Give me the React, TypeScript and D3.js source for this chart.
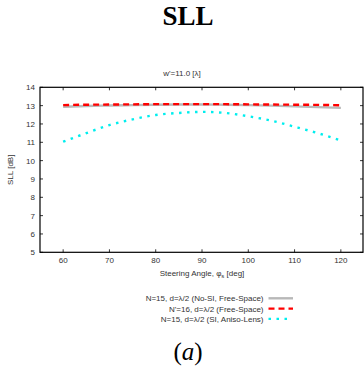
import React from "react";
import * as d3 from "d3";

const angles = [60, 65, 70, 75, 80, 85, 90, 95, 100, 105, 110, 115, 120];
const sllNoSI = [12.94, 12.98, 13.01, 13.03, 13.05, 13.06, 13.06, 13.05, 13.03, 13.0, 12.96, 12.92, 12.88];
const sllN16 = [13.03, 13.05, 13.06, 13.07, 13.08, 13.08, 13.08, 13.08, 13.07, 13.06, 13.05, 13.04, 13.02];
const sllLens = [11.03, 11.5, 11.94, 12.25, 12.49, 12.6, 12.66, 12.6, 12.42, 12.18, 11.85, 11.5, 11.1];

const xTicks = [60, 70, 80, 90, 100, 110, 120];
const yTicks = [5, 6, 7, 8, 9, 10, 11, 12, 13, 14];

const legendLabels = [
  "N=15, d=λ/2 (No-SI, Free-Space)",
  "N'=16, d=λ/2 (Free-Space)",
  "N=15, d=λ/2 (SI, Aniso-Lens)",
];

const W = 364;
const H = 378;
const left = 40;
const right = 363;
const top = 87.3;
const bottom = 252.3;

const seriesStyles = [
  { color: "#b8b8b8", dash: "none", width: 2.4 },
  { color: "#ff0000", dash: "6,4", width: 2.4 },
  { color: "#00eeee", dash: "2.5,5.5", width: 2.4 },
];

export default function App() {
  const x = d3.scaleLinear().domain([55, 125]).range([left, right + 1]);
  const y = d3.scaleLinear().domain([5, 14]).range([bottom, top]);
  const line = d3
    .line<[number, number]>()
    .x((d) => x(d[0]))
    .y((d) => y(d[1]))
    .curve(d3.curveMonotoneX);
  const series = [sllNoSI, sllN16, sllLens].map((vals) =>
    angles.map((a, i) => [a, vals[i]] as [number, number])
  );
  const font = "Liberation Sans, Arial, sans-serif";
  const tickLen = 3;

  return (
    <svg
      width={W}
      height={H}
      style={{ position: "absolute", left: 0, top: 0, background: "#fff" }}
    >
      <text
        x={188}
        y={25}
        textAnchor="middle"
        fontFamily="Liberation Serif, serif"
        fontWeight="bold"
        fontSize={27}
      >
        SLL
      </text>
      <text x={182} y={76} textAnchor="middle" fontFamily={font} fontSize={8} fill="#333">
        w'=11.0 [λ]
      </text>

      {series.map((s, i) => (
        <path
          key={i}
          d={line(s) || ""}
          fill="none"
          stroke={seriesStyles[i].color}
          strokeWidth={seriesStyles[i].width}
          strokeDasharray={seriesStyles[i].dash}
        />
      ))}

      <rect
        x={left}
        y={top}
        width={right - left}
        height={bottom - top}
        fill="none"
        stroke="#000"
        strokeWidth={1.2}
      />

      {xTicks.map((t) => (
        <g key={"x" + t}>
          <line x1={x(t)} x2={x(t)} y1={bottom} y2={bottom - tickLen} stroke="#000" strokeWidth={0.8} />
          <line x1={x(t)} x2={x(t)} y1={top} y2={top + tickLen} stroke="#000" strokeWidth={0.8} />
          <text x={x(t)} y={bottom + 11} textAnchor="middle" fontFamily={font} fontSize={8} fill="#333">
            {t}
          </text>
        </g>
      ))}
      {yTicks.map((t) => (
        <g key={"y" + t}>
          <line x1={left} x2={left + tickLen} y1={y(t)} y2={y(t)} stroke="#000" strokeWidth={0.8} />
          <line x1={right - tickLen} x2={right} y1={y(t)} y2={y(t)} stroke="#000" strokeWidth={0.8} />
          <text x={left - 5} y={y(t) + 3} textAnchor="end" fontFamily={font} fontSize={8} fill="#333">
            {t}
          </text>
        </g>
      ))}

      <text
        transform={`translate(13,${(top + bottom) / 2}) rotate(-90)`}
        textAnchor="middle"
        fontFamily={font}
        fontSize={8}
        fill="#333"
      >
        SLL [dB]
      </text>
      <text x={202} y={276} textAnchor="middle" fontFamily={font} fontSize={8} fill="#333">
        Steering Angle, φ
        <tspan fontSize={6} dy={2}>s</tspan>
        <tspan dy={-2}> [deg]</tspan>
      </text>

      {legendLabels.map((lab, i) => {
        const ly = 298.3 + i * 10.3;
        return (
          <g key={lab}>
            <text x={263.5} y={ly + 3} textAnchor="end" fontFamily={font} fontSize={8} fill="#333">
              {lab}
            </text>
            <line
              x1={268.5}
              x2={i === 2 ? 288 : 293}
              y1={ly}
              y2={ly}
              stroke={seriesStyles[i].color}
              strokeWidth={seriesStyles[i].width}
              strokeDasharray={seriesStyles[i].dash}
            />
          </g>
        );
      })}

      <text
        x={188}
        y={360}
        textAnchor="middle"
        fontFamily="Liberation Serif, serif"
        fontSize={25}
      >
        (<tspan fontStyle="italic">a</tspan>)
      </text>
    </svg>
  );
}
